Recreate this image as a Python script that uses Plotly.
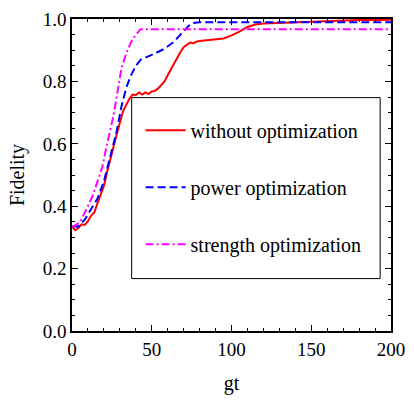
import plotly.graph_objects as go

gt_red = [0, 2, 4, 6, 8, 10, 12, 14, 16, 18, 20, 22, 24, 26, 28, 30, 32, 34, 36, 38,
          40, 42, 44, 46, 48, 50, 52, 54, 56, 58, 60, 62, 64, 66, 68, 70, 72, 74, 76, 78,
          80, 85, 90, 95, 100, 105, 110, 115, 120, 130, 140, 150, 160, 170, 180, 190, 200]
fid_red = [0.335, 0.323, 0.330, 0.342, 0.340, 0.352, 0.370, 0.380, 0.410, 0.440,
           0.465, 0.510, 0.555, 0.590, 0.630, 0.670, 0.705, 0.725, 0.745, 0.758,
           0.757, 0.765, 0.758, 0.765, 0.760, 0.768, 0.770, 0.778, 0.790, 0.800,
           0.820, 0.840, 0.860, 0.875, 0.895, 0.910, 0.918, 0.925, 0.922, 0.928,
           0.930, 0.932, 0.935, 0.938, 0.948, 0.960, 0.975, 0.983, 0.986, 0.988,
           0.990, 0.992, 0.995, 0.996, 0.997, 0.997, 0.998]

gt_blue = [0, 4, 8, 12, 16, 20, 24, 28, 31, 34, 37, 40, 43, 48, 52, 58, 64, 67, 70, 73,
           76, 80, 100, 150, 200]
fid_blue = [0.335, 0.335, 0.357, 0.390, 0.425, 0.480, 0.560, 0.640, 0.720, 0.780,
            0.820, 0.850, 0.870, 0.880, 0.890, 0.905, 0.928, 0.945, 0.963, 0.978,
            0.988, 0.990, 0.990, 0.990, 0.990]

gt_mag = [0, 5, 9, 13, 16, 19, 22, 26, 28, 31, 34, 37, 40, 43, 100, 200]
fid_mag = [0.333, 0.348, 0.390, 0.434, 0.480, 0.526, 0.600, 0.690, 0.750, 0.843,
           0.890, 0.926, 0.950, 0.968, 0.968, 0.968]

names = ["without optimization", "power optimization", "strength optimization"]
x_ticks = [0, 50, 100, 150, 200]
y_ticks = [0, 0.2, 0.4, 0.6, 0.8, 1.0]

FONT = "Times New Roman"
FS = 20
TFS = 19

fig = go.Figure()
fig.add_trace(go.Scatter(x=gt_red, y=fid_red, mode="lines", name=names[0],
                         line=dict(color="#ff0000", width=2), legendgroup="a"))
fig.add_trace(go.Scatter(x=gt_blue, y=fid_blue, mode="lines", name=names[1],
                         line=dict(color="#0000ff", width=2, dash="8px,4px"), legendgroup="b"))
fig.add_trace(go.Scatter(x=gt_mag, y=fid_mag, mode="lines", name=names[2],
                         line=dict(color="#ff00ff", width=2, dash="8px,3px,2px,3px"), legendgroup="c"))

axis_common = dict(
    showgrid=False, zeroline=False, showline=True, linecolor="black", linewidth=1.5,
    mirror="allticks", ticks="inside", ticklen=6, tickwidth=1, tickcolor="black",
    tickfont=dict(family=FONT, size=TFS, color="black"),
)

fig.update_xaxes(range=[0, 200], tickvals=x_ticks,
                 minor=dict(dtick=10, tick0=0, ticks="inside", ticklen=3, tickcolor="black"),
                 title=dict(text="gt", font=dict(family=FONT, size=FS, color="black"), standoff=17),
                 **axis_common)
fig.update_yaxes(range=[0, 1.0005], tickvals=y_ticks, tickformat=".1f",
                 minor=dict(dtick=0.05, tick0=0, ticks="inside", ticklen=3, tickcolor="black"),
                 title=dict(text="Fidelity", font=dict(family=FONT, size=FS, color="black"), standoff=13),
                 **axis_common)

fig.add_shape(type="rect", xref="paper", yref="paper", x0=0.187, x1=0.966, y0=0.168, y1=0.748,
              line=dict(color="black", width=1), fillcolor="white", layer="below")

fig.update_layout(
    width=414, height=404,
    margin=dict(l=72, r=15, t=9, b=73),
    paper_bgcolor="white", plot_bgcolor="white",
    font=dict(family=FONT, size=FS, color="black"),
    legend=dict(x=0.215, y=0.706, xanchor="left", yanchor="top",
                bgcolor="rgba(0,0,0,0)", borderwidth=0,
                font=dict(family=FONT, size=FS, color="black"),
                tracegroupgap=28, itemwidth=40),
    showlegend=True,
)

fig.write_html("out.html")
